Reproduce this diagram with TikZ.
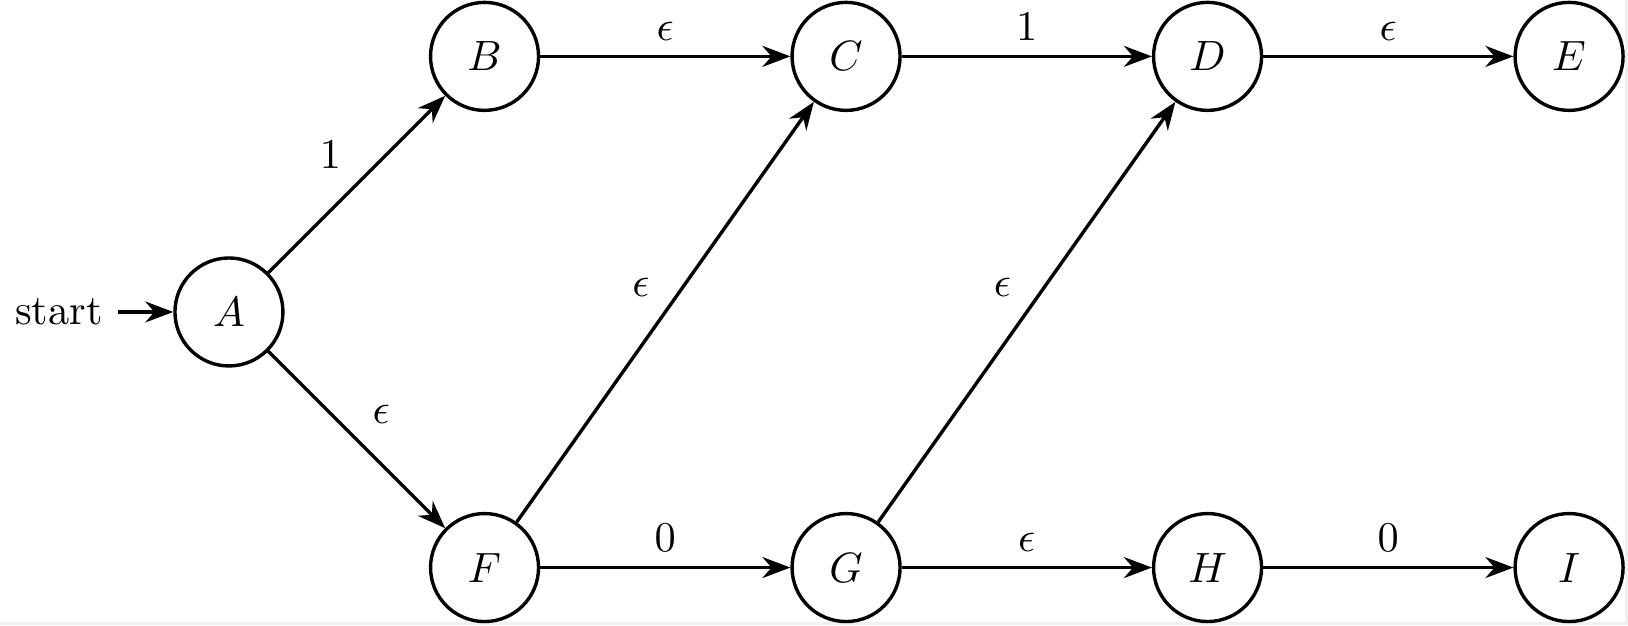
\documentclass[tikz,border=0pt]{standalone}
\usetikzlibrary{automata,arrows.meta,positioning}
\begin{document}
\begin{tikzpicture}[>=Stealth, auto, thick,
  stt/.style={state, circle, draw, minimum size=25.5pt, inner sep=0pt},
  every edge/.style={draw, ->, thick}]
\useasboundingbox (-1.900,-2.598) rectangle (11.610,2.589);
\fill[black!6] (11.585,-2.598) rectangle (11.610,2.589);
\fill[black!6] (-1.900,-2.598) rectangle (11.610,-2.573);
\node[stt, initial, initial text=start, initial where=left] (A) at (0,0) {$A$};
\node[stt] (B) at (2.121,2.121) {$B$};
\node[stt] (C) at (5.121,2.121) {$C$};
\node[stt] (D) at (8.121,2.121) {$D$};
\node[stt] (E) at (11.121,2.121) {$E$};
\node[stt] (F) at (2.121,-2.121) {$F$};
\node[stt] (G) at (5.121,-2.121) {$G$};
\node[stt] (H) at (8.121,-2.121) {$H$};
\node[stt] (I) at (11.121,-2.121) {$I$};
\path (A) edge node {$1$} (B)
      (A) edge node {$\epsilon$} (F)
      (B) edge node {$\epsilon$} (C)
      (C) edge node {$1$} (D)
      (D) edge node {$\epsilon$} (E)
      (F) edge node {$\epsilon$} (C)
      (F) edge node {$0$} (G)
      (G) edge node {$\epsilon$} (D)
      (G) edge node {$\epsilon$} (H)
      (H) edge node {$0$} (I);
\end{tikzpicture}
\end{document}
